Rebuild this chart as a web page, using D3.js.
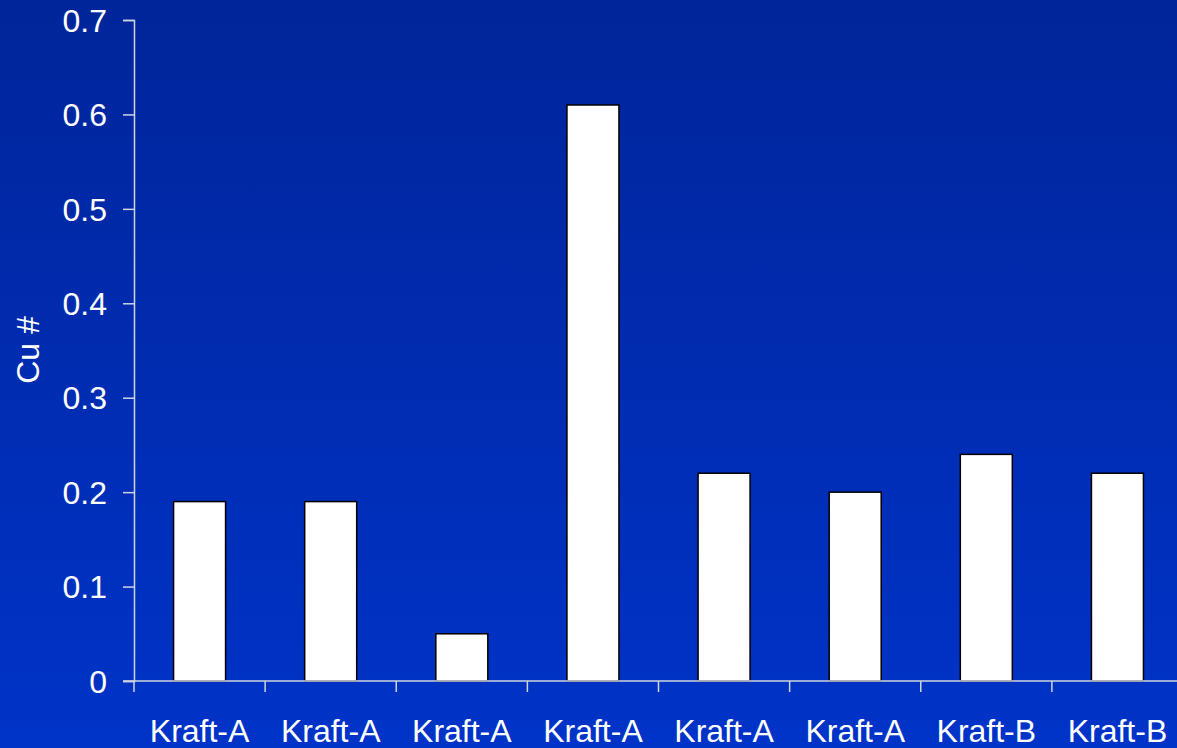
<!DOCTYPE html>
<html><head><meta charset="utf-8">
<script src="https://cdn.jsdelivr.net/npm/d3@7"></script>
<style>html,body{margin:0;padding:0;overflow:hidden;background:#0030b8}</style>
</head><body>
<svg id="c" width="1177" height="748"></svg>
<script>
const categories = ["Kraft-A","Kraft-A","Kraft-A","Kraft-A","Kraft-A","Kraft-A","Kraft-B","Kraft-B"];
const values = [0.19, 0.19, 0.05, 0.61, 0.22, 0.20, 0.24, 0.22];
const yTicks = [0, 0.1, 0.2, 0.3, 0.4, 0.5, 0.6, 0.7];
const yLabel = "Cu #";

(function(){
const svg = d3.select("#c");
const W = 1177, H = 748;
const defs = svg.append("defs");
const g = defs.append("linearGradient").attr("id","bg").attr("x1",0).attr("y1",0).attr("x2",0).attr("y2",1);
g.append("stop").attr("offset","0%").attr("stop-color","#00259a");
g.append("stop").attr("offset","100%").attr("stop-color","#0033c8");
svg.append("rect").attr("width",W).attr("height",H).attr("fill","url(#bg)");

const mLeft = 134, mTop = 20, mBottom = 681, mRight = 1183;
const x = d3.scaleBand().domain(d3.range(categories.length)).range([mLeft, mRight]).paddingInner(0).paddingOuter(0);
const y = d3.scaleLinear().domain([0, 0.7]).range([mBottom, mTop]);
const barW = 52;

svg.selectAll("rect.bar").data(values).enter().append("rect")
  .attr("class","bar")
  .attr("x",(d,i)=>x(i)+x.bandwidth()/2-barW/2)
  .attr("y",d=>y(d))
  .attr("width",barW)
  .attr("height",d=>y(0)-y(d))
  .attr("fill","#ffffff").attr("stroke","#000").attr("stroke-width",1.5);

const axisColor = "#d0d4e0";
const font = "Arial, 'Liberation Sans', sans-serif";
const yAxis = svg.append("g").attr("transform",`translate(${mLeft},0)`)
  .call(d3.axisLeft(y).tickValues(yTicks).tickSize(11).tickPadding(16).tickFormat(d=>d===0?"0":d3.format(".1f")(d)));
const xAxis = svg.append("g").attr("transform",`translate(0,${mBottom})`)
  .call(d3.axisBottom(x).tickSize(0).tickPadding(61).tickFormat(i=>categories[i]));
const bounds = d3.range(categories.length+1).map(i=>mLeft + i*x.bandwidth());
xAxis.selectAll("line.bt").data(bounds).enter().append("line").attr("class","bt")
  .attr("x1",d=>d).attr("x2",d=>d).attr("y1",0).attr("y2",11);
[yAxis,xAxis].forEach(a=>{
  a.selectAll("path.domain").attr("stroke",axisColor).attr("stroke-width",1.5);
  a.selectAll("line").attr("stroke",axisColor).attr("stroke-width",1.5);
  a.selectAll("text").attr("fill","#ffffff").attr("font-family",font).attr("font-size",32);
});
xAxis.select("path.domain").attr("d",`M${mLeft-11},0H${W}`);
xAxis.selectAll(".tick text").attr("dy","0");
yAxis.selectAll(".tick text").attr("dy","0.35em");

svg.append("text").attr("transform","translate(39,350) rotate(-90)")
  .attr("text-anchor","middle").attr("fill","#fff")
  .attr("font-family",font).attr("font-size",32).text(yLabel);
})();
</script>
</body></html>
